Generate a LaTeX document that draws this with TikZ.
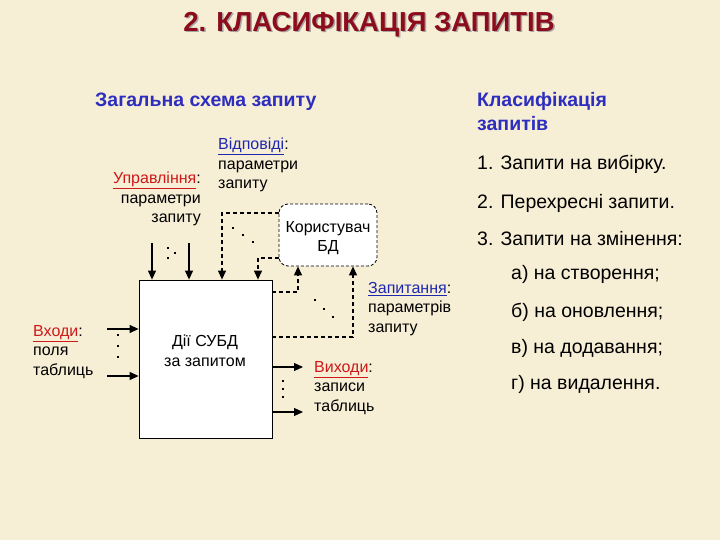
\documentclass[tikz,border=0pt]{standalone}
\usepackage{fontspec}
\setmainfont{Liberation Sans}
\usetikzlibrary{arrows.meta}
\definecolor{bg}{RGB}{247,238,214}
\definecolor{ttl}{RGB}{140,12,28}
\definecolor{hblue}{RGB}{45,45,190}
\definecolor{lred}{RGB}{205,25,25}
\definecolor{lblue}{RGB}{30,40,175}
\tikzset{
 lbl/.style={font=\fontsize{16}{19.5}\selectfont, inner sep=0pt},
 item/.style={font=\fontsize{19.5}{21}\selectfont, anchor=base west, inner sep=0pt},
 head/.style={font=\bfseries\fontsize{19.5}{24.5}\selectfont, text=hblue, inner sep=0pt, align=left},
 sarrow/.style={line width=1.1pt, -{Triangle[length=9pt,width=8pt]}},
 darrow/.style={line width=1.1pt, dash pattern=on 4pt off 3pt, -{Triangle[length=9pt,width=8pt]}},
 dotm/.style={fill=black, minimum size=2.6pt, inner sep=0pt, draw=none, rectangle}
}
\begin{document}
\begin{tikzpicture}[x=1pt,y=-1pt]
\fill[bg] (0,0) rectangle (720,540);
\useasboundingbox (0,0) rectangle (720,540);
% title
\node[font=\bfseries\fontsize{27.5}{30}\selectfont, text=black!35, inner sep=0pt] (titleshadow) at (370.5,26) {2. КЛАСИФІКАЦІЯ ЗАПИТІВ};
\node[font=\bfseries\fontsize{27.5}{30}\selectfont, text=ttl, inner sep=0pt] (title) at (369,24.5) {2. КЛАСИФІКАЦІЯ ЗАПИТІВ};
% headings
\node[head, anchor=base west] (h1) at (95,107) {Загальна схема запиту};
\node[head, anchor=base west] (h2) at (477,131) {Класифікація\\запитів};
% list
\node[item] (i1) at (477,170) {1. Запити на вибірку.};
\node[item] (i2) at (477,209) {2. Перехресні запити.};
\node[item] (i3) at (477,245) {3. Запити на змінення:};
\node[item] (ia) at (511,279) {а) на створення;};
\node[item] (ib) at (511,317) {б) на оновлення;};
\node[item] (ic) at (511,353) {в) на додавання;};
\node[item] (id) at (511,389) {г) на видалення.};
% boxes
\node[draw, fill=white, line width=0.8pt, minimum width=133pt, minimum height=158pt, inner sep=0pt] (dbms) at (205.5,359) {};
\node[lbl, align=center] (dbmstxt) at (205,351) {Дії СУБД\\за запитом};
\node[draw, fill=white, line width=0.8pt, dash pattern=on 3pt off 2pt, rounded corners=9pt, minimum width=98pt, minimum height=62pt, inner sep=0pt] (user) at (328,235) {};
\node[lbl, align=center] (usertxt) at (328,238) {Користувач\\БД};
% labels
\node[lbl, align=right, anchor=north east] (ctrl) at (201,172) {\textcolor{lred}{\underline{Управління}}:\\параметри\\запиту};
\node[lbl, align=left, anchor=north west] (answ) at (218,138) {\textcolor{lblue}{\underline{Відповіді}}:\\параметри\\запиту};
\node[lbl, align=left, anchor=north west] (inp) at (33,325) {\textcolor{lred}{\underline{Входи}}:\\поля\\таблиць};
\node[lbl, align=left, anchor=north west] (quest) at (368,282) {\textcolor{lblue}{\underline{Запитання}}:\\параметрів\\запиту};
\node[lbl, align=left, anchor=north west] (outp) at (314,361) {\textcolor{lred}{\underline{Виходи}}:\\записи\\таблиць};
% coordinates
\coordinate (c1) at (152,243);
\coordinate (c2) at (189,243);
\coordinate (in1) at (107,329);
\coordinate (in2) at (107,376);
\coordinate (o1) at (303,367);
\coordinate (o2) at (303,412);
% top arrows
\draw[sarrow] (c1) -- (c1 |- dbms.north);
\draw[sarrow] (c2) -- (c2 |- dbms.north);
\draw[darrow] (user.west |- 0,213) -| (222,0 |- dbms.north);
\draw[darrow] (user.west |- 0,258) -| (258,0 |- dbms.north);
% up arrows
\draw[darrow] (dbms.east |- 0,292) -| (298,0 |- user.south);
\draw[darrow] (dbms.east |- 0,337) -| (353,0 |- user.south);
% inputs / outputs
\draw[sarrow] (in1) -- (in1 -| dbms.west);
\draw[sarrow] (in2) -- (in2 -| dbms.west);
\draw[sarrow] (o1 -| dbms.east) -- (o1);
\draw[sarrow] (o2 -| dbms.east) -- (o2);
% dots
\foreach \x/\y in {168/248, 168/258, 175/253,
                   233/228, 243/235, 253/242,
                   315/300, 324/309, 333/317,
                   118/335, 118/346, 118/357,
                   283/381, 283/389, 283/397}
  \node[dotm] at (\x,\y) {};
\end{tikzpicture}
\end{document}
